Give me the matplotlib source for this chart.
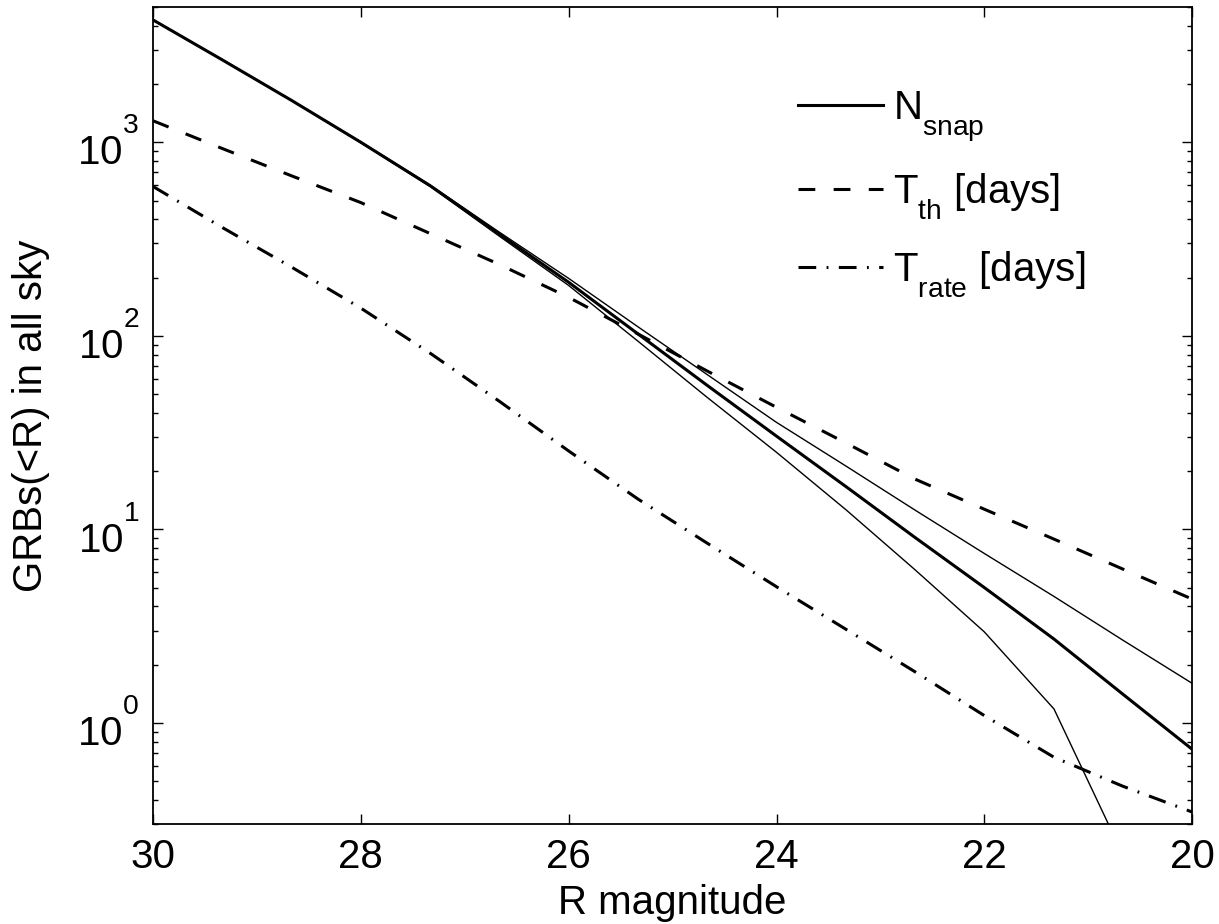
import numpy as np
import matplotlib
matplotlib.use("Agg")
import matplotlib.pyplot as plt
import matplotlib._mathtext as mathtext_internal
from matplotlib.ticker import LogLocator, FixedLocator

plt.rcParams['font.family'] = ['Liberation Sans', 'DejaVu Sans']
plt.rcParams['mathtext.fontset'] = 'custom'
plt.rcParams['mathtext.rm'] = 'Liberation Sans'
plt.rcParams['mathtext.it'] = 'Liberation Sans:italic'
plt.rcParams['font.size'] = 29

# MATLAB-like scripts: subscripts dropped lower, superscripts raised higher
mathtext_internal.FontConstantsBase.sub1 = 0.75
mathtext_internal.FontConstantsBase.sup1 = 1.4

# R magnitude grid
mag = [30, 29.33, 28.67, 28, 27.33, 26.67, 26, 25.33, 24.67, 24,
       23.33, 22.67, 22, 21.33, 20.67, 20]

# number of GRBs in a snapshot (thick) and its upper / lower envelopes (thin)
n_snap = [4290, 2660, 1650, 1000, 595, 336, 189, 102, 55.6, 30.3,
          16.6, 9.1, 5.0, 2.71, 1.41, 0.73]
n_snap_hi = [4290, 2660, 1650, 1005, 600, 344, 198, 111, 63.2, 35.7,
             21.2, 12.6, 7.5, 4.5, 2.68, 1.6]
n_snap_lo = [4290, 2660, 1650, 995, 590, 328, 182, 93.5, 48.2, 25.0,
             12.6, 6.2, 2.95, 1.18, 0.21, 0.03]

# timescales in days
t_th = [1292, 927, 672, 488, 337, 234, 158, 102, 65.9, 42.7,
        27.9, 18.2, 12.7, 8.9, 6.24, 4.36]
t_rate = [591, 362, 227, 139, 81.1, 46, 25.4, 14.3, 8.5, 5.05,
          3.04, 1.84, 1.09, 0.664, 0.471, 0.346]

fig = plt.figure(figsize=(12.19, 9.24), dpi=100)
ax = fig.add_axes([0.1255, 0.1082, 0.8525, 0.8842])

ax.plot(mag, n_snap, color='k', lw=2.2, label=r'$\mathrm{N_{snap}}$')
ax.plot(mag, n_snap_hi, color='k', lw=1.0)
ax.plot(mag, n_snap_lo, color='k', lw=1.0)
ax.plot(mag, t_th, color='k', lw=2.2, dashes=(5.5, 6.0),
        label=r'$\mathrm{T_{th}}$ [days]')
ax.plot(mag, t_rate, color='k', lw=2.2, dashes=(5.8, 3.4, 0.6, 3.4),
        label=r'$\mathrm{T_{rate}}$ [days]')

ax.set_yscale('log')
ax.set_xlim(30, 20)
ax.set_ylim(0.3, 5000)
ax.xaxis.set_major_locator(FixedLocator([30, 28, 26, 24, 22, 20]))
ax.yaxis.set_major_locator(LogLocator(base=10, numticks=10))
ax.yaxis.set_minor_locator(LogLocator(base=10, subs=np.arange(2, 10), numticks=10))

ax.tick_params(which='both', direction='in', top=True, right=True, width=1.0)
ax.tick_params(which='major', length=7, pad=10)
ax.tick_params(which='minor', length=3.5)
for s in ax.spines.values():
    s.set_linewidth(1.3)

ax.set_xlabel('R magnitude', labelpad=6)
ax.set_ylabel('GRBs(<R) in all sky', labelpad=20)

ax.legend(loc='upper left', bbox_to_anchor=(0.586, 0.944), frameon=False,
          handlelength=2.1, handletextpad=0.25, labelspacing=0.68, fontsize=29)

fig.savefig('out.png', dpi=100)
